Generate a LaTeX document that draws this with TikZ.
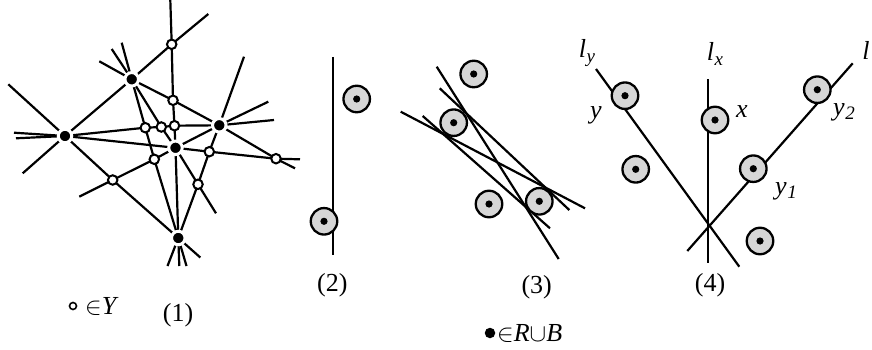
\documentclass[tikz,border=0pt]{standalone}
\usepackage{fontspec}
\setmainfont{Liberation Serif}
\definecolor{diskgray}{RGB}{214,214,214}
\newcommand{\lbl}[2]{\textit{#1}\kern0.5pt\raisebox{-0.35ex}{\fontsize{19}{19}\selectfont\textit{#2}}}
\begin{document}
\begin{tikzpicture}[x=1pt,y=-1pt,
  ln/.style={line width=2.2pt},
  wnode/.style={circle,draw=black,fill=white,line width=2pt,minimum size=9.5pt,inner sep=0pt},
  bnode/.style={circle,fill=black,draw=white,line width=3pt,minimum size=13.5pt,inner sep=0pt},
  gdisk/.style={circle,draw=black,fill=diskgray,line width=2.3pt,minimum size=26.5pt,inner sep=0pt},
  txt/.style={font=\fontsize{26}{28}\selectfont,inner sep=0pt}]
\useasboundingbox (0,0) rectangle (872,350);
% ---------- (1) ----------
\coordinate (pB1) at (131.7,79.3);
\coordinate (pB2) at (65,136);
\coordinate (pB3) at (219.3,125.3);
\coordinate (pB4) at (175.5,147.8);
\coordinate (pB5) at (178.3,238);
\coordinate (pW1) at (171.7,44.3);
\coordinate (pW2) at (173,100.3);
\coordinate (pW3) at (145.3,127.7);
\coordinate (pW4) at (161.3,127);
\coordinate (pW5) at (174.5,125.7);
\coordinate (pW6) at (209.3,151.7);
\coordinate (pW7) at (154.3,159.3);
\coordinate (pW8) at (112.7,180);
\coordinate (pW9) at (198,184.3);
\coordinate (pW10) at (276,158.7);
% line ends
\coordinate (e1a) at (170.3,0);     \coordinate (e1b) at (179.3,266);
\coordinate (e2a) at (208.3,14);    \coordinate (e2b) at (22.7,173.3);
\coordinate (e3a) at (8.3,84.3);    \coordinate (e3b) at (200.3,257.5);
\coordinate (e4a) at (99.3,61.3);   \coordinate (e4b) at (295,168.3);
\coordinate (e5a) at (244,56.7);    \coordinate (e5b) at (167.5,266);
\coordinate (e6a) at (16,138.3);    \coordinate (e6b) at (274,120);
\coordinate (e7a) at (14,132.7);    \coordinate (e7b) at (300,159.3);
\coordinate (e8a) at (121.7,42.7);  \coordinate (e8b) at (186.5,266);
\coordinate (e9a) at (111.7,49);    \coordinate (e9b) at (216,213.3);
\coordinate (e10a) at (268.3,101.7);\coordinate (e10b) at (79.3,196.7);
\draw[ln] (e1a) -- (pW1) -- (pW2) -- (pW5) -- (pB4) -- (pB5) -- (e1b);
\draw[ln] (e2a) -- (pW1) -- (pB1) -- (pB2) -- (e2b);
\draw[ln] (e3a) -- (pB2) -- (pW8) -- (pB5) -- (e3b);
\draw[ln] (e4a) -- (pB1) -- (pW2) -- (pB3) -- (pW10) -- (e4b);
\draw[ln] (e5a) -- (pB3) -- (pW6) -- (pW9) -- (pB5) -- (e5b);
\draw[ln] (e6a) -- (pB2) -- (pW3) -- (pW4) -- (pW5) -- (pB3) -- (e6b);
\draw[ln] (e7a) -- (pB2) -- (pB4) -- (pW6) -- (pW10) -- (e7b);
\draw[ln] (e8a) -- (pB1) -- (pW3) -- (pW7) -- (pB5) -- (e8b);
\draw[ln] (e9a) -- (pB1) -- (pW4) -- (pB4) -- (pW9) -- (e9b);
\draw[ln] (e10a) -- (pB3) -- (pB4) -- (pW7) -- (pW8) -- (e10b);
\foreach \i in {1,...,10} {\node[wnode] (W\i) at (pW\i) {};}
\foreach \i in {1,...,5} {\node[bnode] (B\i) at (pB\i) {};}
% ---------- (2) ----------
\coordinate (t2) at (332.7,57);
\coordinate (b2) at (332.7,255.3);
\draw[ln] (t2) -- (b2);
\node[gdisk] (d21) at (356.7,99) {};
\node[gdisk] (d22) at (324,221.3) {};
% ---------- (3) ----------
\coordinate (a1) at (436.7,66.7);  \coordinate (a2) at (558.7,259);
\coordinate (c1) at (439.7,88.3);  \coordinate (c2) at (569.3,210);
\coordinate (f1) at (400.7,111.7); \coordinate (f2) at (585,208.3);
\coordinate (g1) at (422.7,116);   \coordinate (g2) at (550,228.3);
\draw[ln] (a1) -- (a2);
\draw[ln] (c1) -- (c2);
\draw[ln] (f1) -- (f2);
\draw[ln] (g1) -- (g2);
\node[gdisk] (d31) at (473.7,74) {};
\node[gdisk] (d32) at (453.7,122.7) {};
\node[gdisk] (d33) at (489,204) {};
\node[gdisk] (d34) at (539.3,201.3) {};
% ---------- (4) ----------
\coordinate (ly1) at (596,69);     \coordinate (ly2) at (739.3,266.7);
\coordinate (lx1) at (708.3,79.3); \coordinate (lx2) at (708.3,263.3);
\coordinate (l1) at (852.7,63.3);  \coordinate (l2) at (687.3,251);
\draw[ln] (ly1) -- (ly2);
\draw[ln] (lx1) -- (lx2);
\draw[ln] (l1) -- (l2);
\node[gdisk] (dy) at (625,95.7) {};
\node[gdisk] (dx) at (715,120) {};
\node[gdisk] (dy2) at (817.3,89.7) {};
\node[gdisk] (d41) at (635.7,169.3) {};
\node[gdisk] (dy1) at (753.3,168.7) {};
\node[gdisk] (d42) at (760,241) {};
\foreach \d in {d21,d22,d31,d32,d33,d34,dy,dx,dy2,d41,dy1,d42} {\fill (\d.center) circle (3.6pt);}
% labels
\node[txt] (Lly) at (587,53) {\lbl{l}{y}};
\node[txt] (Llx) at (715,54) {\lbl{l}{x}};
\node[txt] (Ll) at (866,50) {\textit{l}};
\node[txt] (Ly) at (596,115) {\textit{y}};
\node[txt] (Lx) at (742,112) {\textit{x}};
\node[txt] (Ly2) at (844,112) {\lbl{y}{2}};
\node[txt] (Ly1) at (786,191) {\lbl{y}{1}};
\node[txt] (n2) at (332.3,285) {(2)};
\node[txt] (n3) at (536.7,287) {(3)};
\node[txt] (n4) at (710,285) {(4)};
\node[txt] (n1) at (178,315) {(1)};
% legend
\node[circle,draw=black,fill=white,line width=1.6pt,minimum size=7pt,inner sep=0pt] (legw) at (73,306) {};
\node[txt,anchor=west] (legwt) at (85,306) {$\in$\textit{Y}};
\node[circle,fill=black,minimum size=10.5pt,inner sep=0pt] (legb) at (490,333) {};
\node[txt,anchor=west] (legbt) at (497,333) {$\in$\textit{R}$\cup$\textit{B}};
\end{tikzpicture}
\end{document}
